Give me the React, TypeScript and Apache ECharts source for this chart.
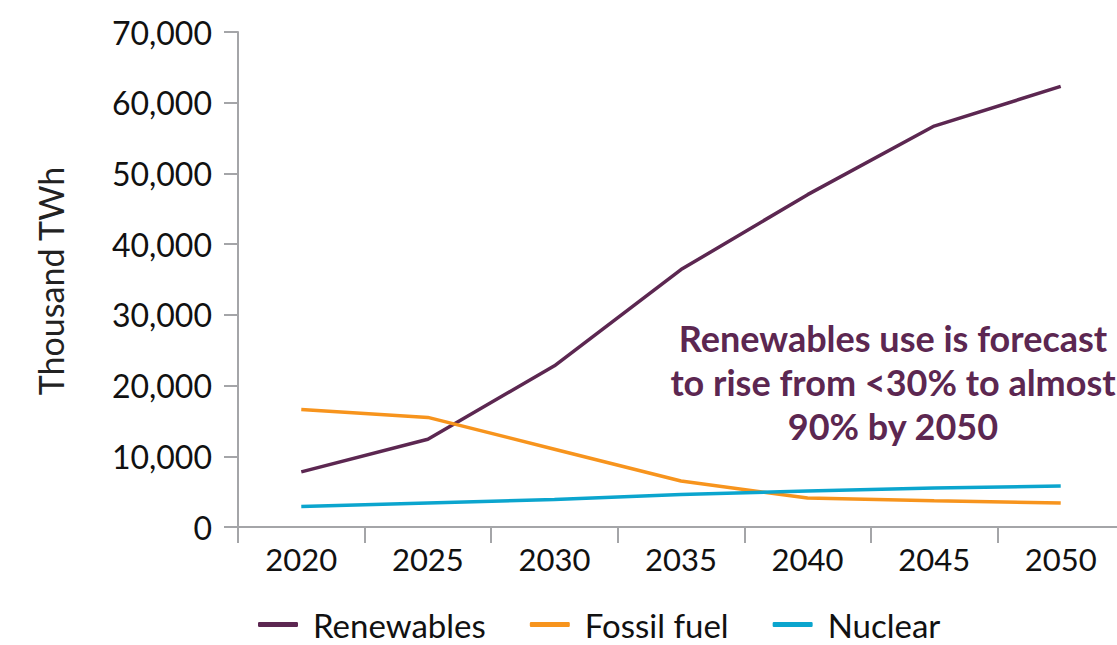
import React, { useEffect, useRef } from "react";
import * as echarts from "echarts";

// Electricity generation by source, thousand TWh
const years = ["2020", "2025", "2030", "2035", "2040", "2045", "2050"];
const renewables = [7800, 12400, 22800, 36400, 47000, 56700, 62300];
const fossilFuel = [16600, 15500, 11000, 6500, 4100, 3700, 3400];
const nuclear = [2900, 3400, 3900, 4600, 5100, 5500, 5800];

const yTicks = { min: 0, max: 70000, interval: 10000 };
const yTitle = "Thousand TWh";
const noteLines = [
  "Renewables use is forecast",
  "to rise from <30% to almost",
  "90% by 2050",
];

const PURPLE = "#5C2751";
const ORANGE = "#F7941D";
const BLUE = "#0BA5CE";
const AXIS = "#A4A5A8";
const FONT = "Lato, 'Noto Sans', sans-serif";

export default function App() {
  const ref = useRef<HTMLDivElement>(null);

  useEffect(() => {
    if (!ref.current) return;
    const chart = echarts.init(ref.current, undefined, { renderer: "svg" });
    const lineSeries = (name: string, data: number[], color: string) => ({
      name,
      type: "line",
      data,
      symbol: "none",
      lineStyle: { color, width: 3.5 },
      itemStyle: { color },
    });
    chart.setOption({
      animation: false,
      textStyle: { fontFamily: FONT },
      grid: { left: 238, right: 1, top: 32, bottom: 118 },
      xAxis: {
        type: "category",
        data: years,
        boundaryGap: true,
        axisLine: { lineStyle: { color: AXIS, width: 2 } },
        axisTick: { show: true, length: 16, lineStyle: { color: AXIS, width: 2 } },
        axisLabel: { color: "#111", fontSize: 31, fontFamily: FONT, margin: 16 },
      },
      yAxis: {
        type: "value",
        min: yTicks.min,
        max: yTicks.max,
        interval: yTicks.interval,
        splitLine: { show: false },
        axisLine: { show: true, lineStyle: { color: AXIS, width: 2 } },
        axisTick: { show: true, length: 14, lineStyle: { color: AXIS, width: 2 } },
        axisLabel: {
          color: "#111",
          fontSize: 32,
          fontFamily: FONT,
          margin: 26,
          formatter: (v: number) => v.toLocaleString("en-US"),
        },
      },
      legend: {
        left: 253,
        top: 603,
        icon: "roundRect",
        itemWidth: 40,
        itemHeight: 5,
        itemGap: 44,
        textStyle: {
          color: "#111",
          fontSize: 33,
          fontFamily: FONT,
          padding: [0, 0, 0, 10],
        },
        data: ["Renewables", "Fossil fuel", "Nuclear"],
      },
      graphic: [
        {
          type: "text",
          x: 50,
          y: 281,
          rotation: Math.PI / 2,
          style: {
            text: yTitle,
            fill: "#222",
            fontSize: 34,
            fontFamily: FONT,
            align: "center",
            verticalAlign: "middle",
          },
        },
        {
          type: "text",
          x: 893,
          y: 382,
          style: {
            text: noteLines.join("\n"),
            fill: PURPLE,
            fontSize: 36,
            fontWeight: "bold",
            fontFamily: FONT,
            lineHeight: 44,
            align: "center",
            verticalAlign: "middle",
          },
        },
      ],
      series: [
        lineSeries("Renewables", renewables, PURPLE),
        lineSeries("Fossil fuel", fossilFuel, ORANGE),
        lineSeries("Nuclear", nuclear, BLUE),
      ],
    });
    return () => chart.dispose();
  }, []);

  return (
    <div
      style={{
        position: "absolute",
        left: 0,
        top: 0,
        width: 1117,
        height: 645,
        overflow: "hidden",
        background: "#fff",
      }}
    >
      <div ref={ref} style={{ width: 1125, height: 645 }} />
    </div>
  );
}
